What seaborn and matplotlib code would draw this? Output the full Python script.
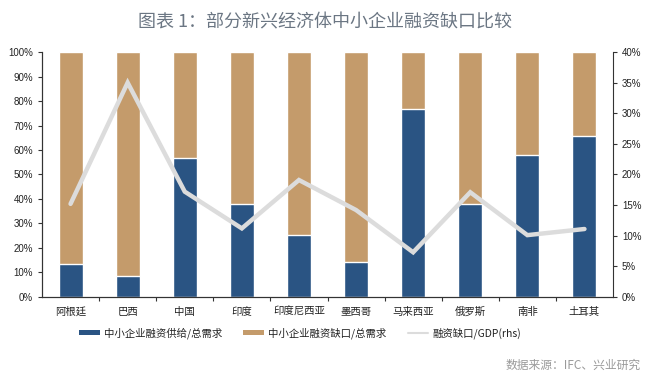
import numpy as np
import pandas as pd
import seaborn as sns
import matplotlib.pyplot as plt
from matplotlib.patches import Patch
from matplotlib.lines import Line2D
from matplotlib.ticker import PercentFormatter, FixedLocator, MultipleLocator

countries = ['阿根廷', '巴西', '中国', '印度', '印度尼西亚', '墨西哥', '马来西亚', '俄罗斯', '南非', '土耳其']
supply_share = [13.5, 8.6, 56.9, 38.0, 25.4, 14.4, 76.6, 38.0, 58.0, 65.7]
gap_share = [100 - s for s in supply_share]
gap_gdp = [15.2, 35.0, 17.2, 11.2, 19.1, 14.2, 7.3, 17.1, 10.1, 11.1]

legend_labels = ['中小企业融资供给/总需求', '中小企业融资缺口/总需求', '融资缺口/GDP(rhs)']
title = '图表 1：部分新兴经济体中小企业融资缺口比较'
source = '数据来源：IFC、兴业研究'

blue = '#2a5483'
tan = '#c49b6b'
grey_line = '#dcdcdc'

sns.set_style('ticks')
plt.rcParams['font.family'] = ['Noto Sans CJK SC', 'DejaVu Sans']

df = pd.DataFrame({'country': countries, 'supply': supply_share, 'gap': gap_share, 'gdp': gap_gdp})
df['total'] = df['supply'] + df['gap']

fig = plt.figure(figsize=(6.5, 3.81), dpi=100)
ax = fig.add_axes([0.0646, 0.2205, 0.8785, 0.643])

sns.barplot(data=df, x='country', y='total', color=tan, width=0.42, saturation=1, ax=ax)
sns.barplot(data=df, x='country', y='supply', color=blue, width=0.42, saturation=1, ax=ax)
ax.set_xlim(-0.5, len(countries) - 0.5)
ax.set_ylim(0, 100)
ax.yaxis.set_major_locator(MultipleLocator(10))
ax.yaxis.set_major_formatter(PercentFormatter(decimals=0))
ax.set_xlabel('')
ax.set_ylabel('')

# ticks between categories, labels at centres
ax.xaxis.set_major_locator(FixedLocator(np.arange(0.5, len(countries) - 0.5, 1)))
ax.xaxis.set_major_formatter(plt.NullFormatter())
ax.set_xticks(np.arange(len(countries)), labels=countries, minor=True)
ax.tick_params(axis='x', which='minor', length=0, labelsize=7.5, pad=7, colors='#222222')
ax.tick_params(axis='x', which='major', length=3, width=0.8, color='#333333')
ax.tick_params(axis='y', length=3, width=0.8, labelsize=7, color='#333333', labelcolor='#222222')
for lab in ax.get_yticklabels():
    lab.set_family(['Liberation Sans', 'DejaVu Sans'])

ax2 = ax.twinx()
sns.lineplot(x=np.arange(len(countries)), y=df['gdp'], color=grey_line, linewidth=3.2,
             solid_capstyle='round', solid_joinstyle='miter', ax=ax2)
ax2.set_ylim(0, 40)
ax2.yaxis.set_major_locator(MultipleLocator(5))
ax2.yaxis.set_major_formatter(PercentFormatter(decimals=0))
ax2.set_ylabel('')
ax2.tick_params(axis='y', length=3, width=0.8, labelsize=7, color='#333333', labelcolor='#222222')
for lab in ax2.get_yticklabels():
    lab.set_family(['Liberation Sans', 'DejaVu Sans'])

for a in (ax, ax2):
    a.spines['top'].set_visible(False)
    for s in ('left', 'right', 'bottom'):
        a.spines[s].set_color('#333333')
        a.spines[s].set_linewidth(0.8)
ax.spines['right'].set_visible(False)

handles = [Patch(facecolor=blue, edgecolor='none'),
           Patch(facecolor=tan, edgecolor='none'),
           Line2D([0], [0], color=grey_line, linewidth=1.5)]
fig.legend(handles, legend_labels, loc='center', bbox_to_anchor=(0.462, 0.126), ncol=3,
           frameon=False, fontsize=7.5, handlelength=2.0, handleheight=0.45,
           columnspacing=2.0, handletextpad=0.4, labelcolor='#222222')

fig.text(0.5, 0.942, title, ha='center', va='center', fontsize=13, color='#6b7683')
fig.text(0.985, 0.04, source, ha='right', va='center', fontsize=8.5, color='#9a9a9a')

fig.savefig('out.png', dpi=100)
